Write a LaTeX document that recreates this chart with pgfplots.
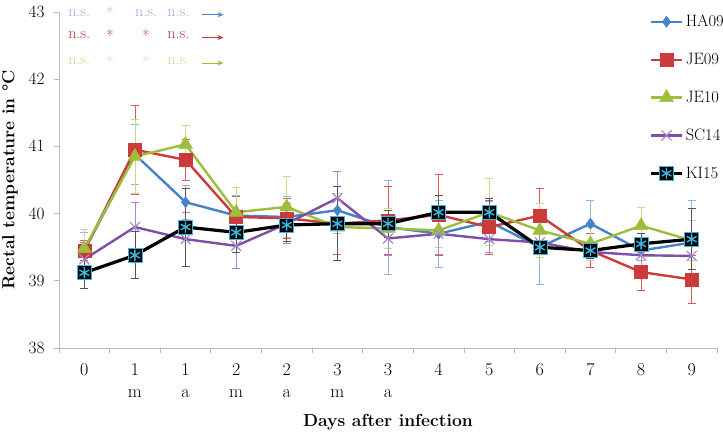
\documentclass[border=0pt]{standalone}
\usepackage{pgfplots}
\usepackage{pgfplotstable}
\pgfplotsset{compat=1.18}
\usetikzlibrary{arrows.meta}

\definecolor{habl}{HTML}{4682C8}
\definecolor{haerr}{HTML}{8FB3E6}
\definecolor{jered}{HTML}{CC3B3B}
\definecolor{jeerr}{HTML}{E05555}
\definecolor{jegreen}{HTML}{9DBE3C}
\definecolor{jegerr}{HTML}{C5DA8A}
\definecolor{scpurple}{HTML}{7F4FA8}
\definecolor{scerr}{HTML}{A985CC}
\definecolor{kicyan}{HTML}{3BB8E0}
\definecolor{kierr}{HTML}{555555}
\definecolor{axgray}{HTML}{BBBBBB}
\definecolor{nsblue}{HTML}{9DB0DD}
\definecolor{nsred}{HTML}{C83030}
\definecolor{nsgreen}{HTML}{C8DA9A}

\pgfdeclareplotmark{kimark}{%
  \pgfpathrectangle{\pgfpoint{-\pgfplotmarksize}{-\pgfplotmarksize}}{\pgfpoint{2\pgfplotmarksize}{2\pgfplotmarksize}}%
  \pgfsetfillcolor{black}\pgfsetstrokecolor{kicyan}\pgfsetlinewidth{0.6pt}%
  \pgfusepathqfillstroke
  \pgfsetlinewidth{1.4pt}%
  \pgfpathmoveto{\pgfpoint{0pt}{0.8\pgfplotmarksize}}\pgfpathlineto{\pgfpoint{0pt}{-0.8\pgfplotmarksize}}%
  \pgfpathmoveto{\pgfpointpolar{30}{0.8\pgfplotmarksize}}\pgfpathlineto{\pgfpointpolar{210}{0.8\pgfplotmarksize}}%
  \pgfpathmoveto{\pgfpointpolar{150}{0.8\pgfplotmarksize}}\pgfpathlineto{\pgfpointpolar{330}{0.8\pgfplotmarksize}}%
  \pgfusepathqstroke
}

\pgfplotstableread{
x y e
0 39.45 0.27
1 40.88 0.45
2 40.17 0.25
3 39.97 0.30
4 39.95 0.30
5 40.05 0.35
6 39.80 0.70
7 39.70 0.50
8 39.88 0.30
9 39.50 0.55
10 39.85 0.35
11 39.45 0.15
12 39.57 0.62
}\tHA

\pgfplotstableread{
x y e
0 39.45 0.15
1 40.95 0.66
2 40.80 0.30
3 39.95 0.30
4 39.93 0.30
5 39.85 0.45
6 39.90 0.50
7 39.98 0.60
8 39.80 0.40
9 39.97 0.40
10 39.45 0.25
11 39.13 0.27
12 39.02 0.36
}\tJEa

\pgfplotstableread{
x y e
0 39.48 0.28
1 40.85 0.55
2 41.03 0.28
3 40.02 0.37
4 40.10 0.45
5 39.80 0.50
6 39.78 0.30
7 39.75 0.25
8 40.02 0.50
9 39.75 0.40
10 39.55 0.25
11 39.82 0.27
12 39.60 0.30
}\tJEb

\pgfplotstableread{
x y e
0 39.32 0.25
1 39.80 0.37
2 39.62 0.40
3 39.52 0.33
4 39.85 0.30
5 40.23 0.40
6 39.63 0.25
7 39.70 0.30
8 39.62 0.20
9 39.57 0.15
10 39.43 0.10
11 39.38 0.15
12 39.37 0.20
}\tSC

\pgfplotstableread{
x y e
0 39.12 0.23
1 39.38 0.35
2 39.80 0.58
3 39.72 0.30
4 39.83 0.25
5 39.85 0.55
6 39.85 0.20
7 40.02 0.25
8 40.02 0.20
9 39.50 0.10
10 39.45 0.12
11 39.55 0.15
12 39.62 0.45
}\tKI

\begin{document}
\begin{tikzpicture}
\begin{axis}[
  scale only axis,
  width=658pt, height=336pt,
  xmin=-0.5, xmax=12.5,
  ymin=38, ymax=43,
  clip=false,
  axis lines*=left,
  axis line style={axgray, line width=0.8pt},
  every tick/.style={axgray, line width=0.8pt},
  tick align=outside,
  major tick length=5pt,
  minor tick length=5pt,
  xtick={0,...,12},
  xticklabels={0,{1\\[2pt]m},{1\\[2pt]a},{2\\[2pt]m},{2\\[2pt]a},{3\\[2pt]m},{3\\[2pt]a},4,5,6,7,8,9},
  major x tick style={draw=none},
  minor xtick={-0.5,0.5,...,12.5},
  xticklabel style={align=center, anchor=north, yshift=-7pt, font=\fontsize{18}{20}\selectfont},
  ytick={38,39,...,43},
  yticklabel style={font=\fontsize{19}{22}\selectfont, xshift=-6pt},
  legend style={at={(rel axis cs:1,1)}, anchor=north east, xshift=12pt, yshift=1pt,
    draw=none, fill=none, row sep=21pt, font=\fontsize{16.5}{19}\selectfont},
  legend cell align=left,
  legend image code/.code={\draw[mark repeat=2,mark phase=2] plot coordinates {(0cm,0cm) (0.55cm,0cm) (1.1cm,0cm)};},
  error bars/y dir=both, error bars/y explicit,
]
\coordinate (O) at (rel axis cs:0,0);

\addplot[habl, line width=2.4pt, mark=diamond*, mark size=5.5pt, mark options={fill=habl, draw=habl, line width=0.5pt},
  error bars/error bar style={haerr, line width=0.8pt},
  error bars/error mark options={rotate=90, mark size=4pt, haerr, line width=0.8pt}]
  table[x=x, y=y, y error=e] {\tHA};
\addlegendentry{HA09}

\addplot[jered, line width=2.4pt, mark=square*, mark size=6.5pt, mark options={fill=jered, draw=jered, line width=0.5pt},
  error bars/error bar style={jeerr, line width=0.8pt},
  error bars/error mark options={rotate=90, mark size=4pt, jeerr, line width=0.8pt}]
  table[x=x, y=y, y error=e] {\tJEa};
\addlegendentry{JE09}

\addplot[jegreen, line width=2.4pt, mark=triangle*, mark size=8pt, mark options={fill=jegreen, draw=jegreen, line width=0.5pt},
  error bars/error bar style={jegerr, line width=0.8pt},
  error bars/error mark options={rotate=90, mark size=4pt, jegerr, line width=0.8pt}]
  table[x=x, y=y, y error=e] {\tJEb};
\addlegendentry{JE10}

\addplot[scpurple, line width=2.4pt, mark=x, mark size=7pt, mark options={draw=scerr, line width=1.2pt},
  error bars/error bar style={scerr, line width=0.8pt},
  error bars/error mark options={rotate=90, mark size=4pt, scerr, line width=0.8pt}]
  table[x=x, y=y, y error=e] {\tSC};
\addlegendentry{SC14}

\addplot[black, line width=3.2pt, mark=kimark, mark size=7pt,
  error bars/error bar style={kierr, line width=0.8pt},
  error bars/error mark options={rotate=90, mark size=4pt, kierr, line width=0.8pt}]
  table[x=x, y=y, y error=e] {\tKI};
\addlegendentry{KI15}

% significance annotations
\begin{scope}[every node/.style={font=\fontsize{16}{19}\selectfont}]
\node[text=nsblue] at (axis cs:-0.1,42.99) {n.s.};
\node[text=nsblue] at (axis cs:0.51,42.99) {*};
\node[text=nsblue] at (axis cs:1.22,42.99) {n.s.};
\node[text=nsblue] at (axis cs:1.86,42.99) {n.s.};
\node[text=nsred] at (axis cs:-0.1,42.65) {n.s.};
\node[text=nsred] at (axis cs:0.51,42.65) {*};
\node[text=nsred] at (axis cs:1.22,42.65) {*};
\node[text=nsred] at (axis cs:1.86,42.65) {n.s.};
\node[text=nsgreen] at (axis cs:-0.1,42.27) {n.s.};
\node[text=nsgreen] at (axis cs:0.51,42.27) {*};
\node[text=nsgreen] at (axis cs:1.22,42.27) {*};
\node[text=nsgreen] at (axis cs:1.86,42.27) {n.s.};
\end{scope}
\draw[-{Stealth[length=6pt,width=5pt]}, habl, line width=1pt] (axis cs:2.33,42.96) -- (axis cs:2.75,42.96);
\draw[-{Stealth[length=6pt,width=5pt]}, jered, line width=1pt] (axis cs:2.33,42.62) -- (axis cs:2.75,42.62);
\draw[-{Stealth[length=6pt,width=5pt]}, jegreen, line width=1pt] (axis cs:2.33,42.24) -- (axis cs:2.75,42.24);

\node[rotate=90, font=\bfseries\fontsize{17.5}{20}\selectfont] at ([xshift=-49pt]rel axis cs:0,0.5) {Rectal temperature in °C};
\node[font=\bfseries\fontsize{17.5}{20}\selectfont] at ([yshift=-74pt]rel axis cs:0.5,0) {Days after infection};
\end{axis}
\pgfresetboundingbox
\path (O) ++(-59pt,-86pt) rectangle ++(723pt,434pt);
\end{tikzpicture}
\end{document}
